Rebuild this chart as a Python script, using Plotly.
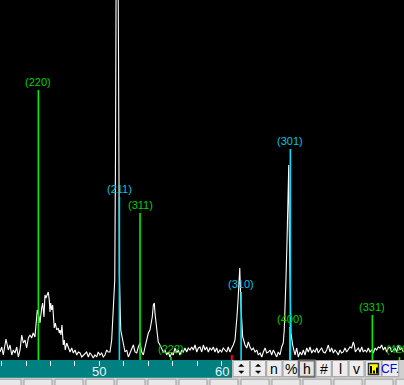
import plotly.graph_objects as go

# ---------------- data ----------------
two_theta = [
    41.87, 42.01, 42.14, 42.36, 42.55, 42.69, 42.83, 42.96, 43.10, 43.24,
    43.37, 43.51, 43.65, 43.78, 43.92, 44.05, 44.19, 44.32, 44.46, 44.59,
    44.73, 44.87, 44.92, 45.09, 45.14, 45.28, 45.36, 45.47, 45.55, 45.63,
    45.74, 45.82, 45.90, 45.96, 46.02, 46.10, 46.18, 46.23, 46.31, 46.40,
    46.51, 46.64, 46.72, 46.78, 46.86, 46.94, 47.00, 47.05, 47.13, 47.21,
    47.33, 47.46, 47.60, 47.74, 47.87, 48.01, 48.15, 48.28, 48.42, 48.56,
    48.69, 48.83, 48.96, 49.10, 49.23, 49.37, 49.50, 49.64, 49.78, 49.91,
    50.05, 50.19, 50.32, 50.46, 50.60, 50.73, 50.87, 51.01, 51.09, 51.17,
    51.26, 51.32, 51.44, 51.57, 51.60, 51.64, 51.75, 51.83, 51.91, 52.02,
    52.10, 52.24, 52.37, 52.51, 52.65, 52.78, 52.92, 53.06, 53.19, 53.33,
    53.47, 53.60, 53.74, 53.87, 54.01, 54.14, 54.23, 54.33, 54.42, 54.50,
    54.55, 54.64, 54.72, 54.82, 54.96, 55.10, 55.23, 55.37, 55.51, 55.64,
    55.78, 55.92, 56.05, 56.19, 56.33, 56.46, 56.60, 56.74, 56.87, 57.01,
    57.15, 57.28, 57.42, 57.56, 57.69, 57.83, 57.97, 58.10, 58.24, 58.38,
    58.51, 58.65, 58.78, 58.92, 59.05, 59.19, 59.33, 59.46, 59.60, 59.73,
    59.87, 60.01, 60.14, 60.28, 60.42, 60.55, 60.69, 60.83, 60.96, 61.10,
    61.18, 61.26, 61.35, 61.43, 61.49, 61.59, 61.65, 61.73, 61.81, 61.92,
    62.06, 62.19, 62.33, 62.47, 62.60, 62.74, 62.88, 63.01, 63.15, 63.29,
    63.42, 63.56, 63.69, 63.83, 63.97, 64.10, 64.24, 64.37, 64.51, 64.64,
    64.78, 64.92, 65.05, 65.13, 65.22, 65.27, 65.36, 65.42, 65.50, 65.54,
    65.60, 65.68, 65.82, 65.93, 66.01, 66.15, 66.28, 66.42, 66.56, 66.69,
    66.83, 66.97, 67.10, 67.24, 67.38, 67.51, 67.65, 67.79, 67.92, 68.06,
    68.19, 68.33, 68.47, 68.60, 68.74, 68.87, 69.01, 69.15, 69.28, 69.42,
    69.55, 69.69, 69.83, 69.96, 70.10, 70.24, 70.37, 70.51, 70.65, 70.78,
    70.86, 70.95, 71.06, 71.19, 71.33, 71.47, 71.60, 71.74, 71.88, 72.01,
    72.15, 72.29, 72.42, 72.56, 72.69, 72.83, 72.97, 73.10, 73.24, 73.38,
    73.51, 73.65, 73.78, 73.92, 74.06, 74.19, 74.33, 74.46, 74.60, 74.74,
    74.87,
]
intensity = [
    8, 13, 5, 21, 10, 15, 5, 10, 7, 13,
    3, 10, 25, 17, 20, 12, 22, 25, 22, 27,
    23, 43, 50, 42, 37, 52, 57, 43, 65, 62,
    67, 68, 60, 48, 57, 50, 55, 47, 32, 37,
    30, 32, 27, 30, 25, 35, 22, 15, 20, 10,
    17, 13, 8, 12, 7, 10, 5, 8, 7, 3,
    5, 7, 8, 3, 7, 5, 2, 5, 3, 8,
    5, 7, 3, 5, 10, 8, 8, 20, 37, 60,
    80, 200, 620, 300, 198, 83, 30, 25, 18, 12,
    8, 10, 3, 7, 12, 15, 8, 7, 13, 17,
    8, 5, 13, 20, 27, 30, 37, 43, 55, 57,
    47, 37, 30, 18, 15, 12, 8, 10, 5, 8,
    3, 7, 5, 12, 7, 10, 5, 10, 8, 12,
    8, 12, 10, 13, 10, 15, 8, 12, 13, 8,
    15, 10, 13, 8, 12, 10, 13, 8, 12, 7,
    10, 8, 12, 10, 8, 13, 8, 12, 15, 20,
    30, 43, 60, 85, 92, 53, 33, 23, 20, 15,
    12, 18, 13, 10, 12, 8, 10, 5, 7, 3,
    8, 12, 7, 8, 10, 5, 10, 7, 3, 8,
    5, 13, 17, 30, 53, 80, 120, 165, 195, 132,
    70, 27, 15, 8, 5, 12, 3, 8, 5, 10,
    5, 12, 8, 13, 7, 10, 8, 12, 7, 10,
    12, 8, 7, 10, 15, 8, 12, 7, 10, 8,
    5, 10, 7, 8, 12, 8, 10, 13, 12, 18,
    15, 8, 10, 12, 8, 13, 8, 10, 8, 12,
    8, 10, 7, 12, 10, 13, 12, 15, 10, 13,
    8, 12, 13, 8, 10, 12, 8, 15, 10, 12,
    8,
]

marker_labels = ["(220)", "(211)", "(311)", "(222)", "(310)", "(301)", "(400)", "(331)", "(420)"]
marker_2theta = [45.01, 51.64, 53.33, 55.86, 61.60, 65.63, 65.58, 72.34, 74.56]
marker_height = [270, 163, 147, 3, 68, 211, 33, 45, 3]
marker_phase = ["A", "B", "A", "A", "B", "B", "A", "A", "A"]

tick_values = [42, 44, 46, 48, 50, 52, 54, 56, 58, 60]
tick_labels = ["", "", "", "", "50", "", "", "", "", "60"]

cursor_2theta = 60.84
x_range = [41.87, 74.93]
y_range = [0, 360]

toolbar_buttons = ["n", "%", "h", "#", "l", "v"]

# ---------------- styles ----------------
W, H = 404, 385
PLOT_H = 360
phase_line = {"A": "#00F000", "B": "#00E0FF"}
phase_text = {"A": "#00D000", "B": "#00C4E8"}
FONT = "Liberation Sans, Arial, sans-serif"


def fx(px):
    return px / W


def fy(py):
    return (PLOT_H - py) / PLOT_H


fig = go.Figure()

fig.add_trace(go.Scatter(
    x=two_theta, y=intensity, mode="lines",
    line=dict(color="#FFFFFF", width=1.1), hoverinfo="skip", showlegend=False,
))

for ph in ["A", "B"]:
    xs, ys = [], []
    for t, h, p in zip(marker_2theta, marker_height, marker_phase):
        if p == ph:
            xs += [t, t, None]
            ys += [y_range[0], h, None]
    fig.add_trace(go.Scatter(
        x=xs, y=ys, mode="lines", line=dict(color=phase_line[ph], width=1.6),
        hoverinfo="skip", showlegend=False,
    ))

annotations = []
for lab, t, h, p in zip(marker_labels, marker_2theta, marker_height, marker_phase):
    annotations.append(dict(
        x=t, y=h, xref="x", yref="y", text=lab, showarrow=False,
        xanchor="center", yanchor="bottom", yshift=0,
        font=dict(family=FONT, size=11, color=phase_text[p]),
    ))

# x tick labels placed inside the teal band
for tv, tl in zip(tick_values, tick_labels):
    if tl:
        annotations.append(dict(
            x=tv, y=fy(371.6), xref="x", yref="paper", text=tl, showarrow=False,
            xanchor="center", yanchor="middle",
            font=dict(family=FONT, size=13, color="#EEF4F4"),
        ))

shapes = []
# red cursor mark
shapes.append(dict(type="line", xref="x", yref="y", x0=cursor_2theta, x1=cursor_2theta,
                   y0=0, y1=5, line=dict(color="#FF0000", width=2)))

# teal axis band
shapes.append(dict(type="rect", xref="paper", yref="paper", x0=fx(0), x1=fx(232),
                   y0=fy(377.7), y1=fy(360), fillcolor="#008080", line=dict(width=0),
                   layer="below"))
# toolbar background
shapes.append(dict(type="rect", xref="paper", yref="paper", x0=fx(232), x1=fx(404),
                   y0=fy(378), y1=fy(360), fillcolor="#D0D0D0", line=dict(width=0),
                   layer="above"))

# bottom row of buttons (cut off)
for k in range(14):
    x0 = -7 + 31 * k
    shapes.append(dict(type="rect", xref="paper", yref="paper", x0=fx(x0), x1=fx(x0 + 28),
                       y0=fy(392), y1=fy(379.2), fillcolor="#E8E8E8",
                       line=dict(color="#A0A0A0", width=1), layer="above"))

# spinner buttons
for x0, x1 in [(233, 249.5), (250.5, 265.7)]:
    shapes.append(dict(type="rect", xref="paper", yref="paper", x0=fx(x0), x1=fx(x1),
                       y0=fy(376.7), y1=fy(360.5), fillcolor="#EDEDED",
                       line=dict(color="#A0A0A0", width=1), layer="above"))
    cx = (x0 + x1) / 2
    up = f"M {fx(cx-2.5)} {fy(366.5)} L {fx(cx+2.5)} {fy(366.5)} L {fx(cx)} {fy(364)} Z"
    dn = f"M {fx(cx-2.5)} {fy(371)} L {fx(cx+2.5)} {fy(371)} L {fx(cx)} {fy(373.5)} Z"
    for pth in (up, dn):
        shapes.append(dict(type="path", xref="paper", yref="paper", path=pth,
                           fillcolor="#000000", line=dict(color="#000000", width=0.5),
                           layer="above"))

# text buttons
btn_x = [(266.7, 282), (283, 298), (299, 314.7), (316, 331.3), (332.3, 348), (349, 364)]
for lab, (x0, x1) in zip(toolbar_buttons, btn_x):
    pressed = lab == "h"
    shapes.append(dict(type="rect", xref="paper", yref="paper", x0=fx(x0), x1=fx(x1),
                       y0=fy(376.7), y1=fy(360.5),
                       fillcolor="#E4E4E4" if pressed else "#EDEDED",
                       line=dict(color="#707070" if pressed else "#A0A0A0",
                                 width=2 if pressed else 1), layer="above"))
    annotations.append(dict(x=fx((x0 + x1) / 2), y=fy(368.6), xref="paper", yref="paper",
                            text=lab, showarrow=False, xanchor="center", yanchor="middle",
                            font=dict(family=FONT, size=14, color="#000000")))

# chart icon button
shapes.append(dict(type="rect", xref="paper", yref="paper", x0=fx(365.3), x1=fx(381.3),
                   y0=fy(376.7), y1=fy(360.5), fillcolor="#EDEDED",
                   line=dict(color="#A0A0A0", width=1), layer="above"))
shapes.append(dict(type="rect", xref="paper", yref="paper", x0=fx(368.5), x1=fx(378.5),
                   y0=fy(374.5), y1=fy(363.5), fillcolor="#FFFF00",
                   line=dict(color="#303030", width=1.5), layer="above"))
for bx0, bx1, by in [(370, 372, 366), (373, 375, 370.5), (376, 378, 367.5)]:
    shapes.append(dict(type="rect", xref="paper", yref="paper", x0=fx(bx0), x1=fx(bx1),
                       y0=fy(373.5), y1=fy(by), fillcolor="#000000",
                       line=dict(width=0), layer="above"))

# CF button
shapes.append(dict(type="rect", xref="paper", yref="paper", x0=fx(382), x1=fx(398.7),
                   y0=fy(376.7), y1=fy(360.5), fillcolor="#EDEDED",
                   line=dict(color="#A0A0A0", width=1), layer="above"))
annotations.append(dict(x=fx(390.4), y=fy(368.6), xref="paper", yref="paper",
                        text="CF.", showarrow=False, xanchor="center", yanchor="middle",
                        font=dict(family=FONT, size=12, color="#0000F0")))

fig.update_layout(
    width=W, height=H,
    margin=dict(l=0, r=0, t=0, b=H - PLOT_H, pad=0),
    paper_bgcolor="#D4D4D4",
    plot_bgcolor="#000000",
    showlegend=False,
    xaxis=dict(
        range=x_range, showgrid=False, zeroline=False, showline=False,
        tickmode="array", tickvals=tick_values, ticktext=tick_labels,
        ticks="outside", ticklen=5, tickwidth=1, tickcolor="#FFFFFF",
        showticklabels=False,
        fixedrange=True,
    ),
    yaxis=dict(
        range=y_range, showgrid=False, zeroline=False, showline=False,
        showticklabels=False, ticks="", fixedrange=True,
    ),
    shapes=shapes,
    annotations=annotations,
)

fig.write_html("out.html", config={"displayModeBar": False})
